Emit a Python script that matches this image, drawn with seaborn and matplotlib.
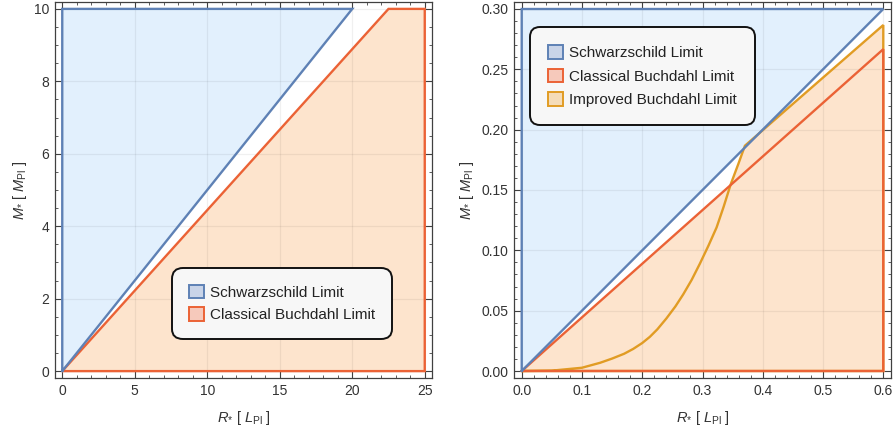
import numpy as np
import matplotlib
matplotlib.use("Agg")
import matplotlib.pyplot as plt
from matplotlib.patches import Patch
from matplotlib.ticker import MultipleLocator, FormatStrFormatter
import seaborn as sns

# ---------------- data ----------------
# Left panel (R in L_Pl, M in M_Pl)
left_schw_R = [0, 20, 0, 0]
left_schw_M = [0, 10, 10, 0]
left_buch_R = [0, 22.5, 25, 25, 0]
left_buch_M = [0, 10, 10, 0, 0]

# Right panel
right_schw_R = [0, 0.6, 0, 0]
right_schw_M = [0, 0.3, 0.3, 0]
right_buch_R = [0, 0.6, 0.6, 0]
right_buch_M = [0, 0.2667, 0, 0]
impr_R = [0, 0.05, 0.1, 0.13, 0.15, 0.17, 0.185, 0.2, 0.2126, 0.225, 0.24,
          0.255, 0.268, 0.282, 0.2957, 0.31, 0.3234, 0.335, 0.347, 0.3594,
          0.3704, 0.6, 0.6, 0]
impr_M = [0, 0.0003, 0.0027, 0.0068, 0.0103, 0.0143, 0.0183, 0.0232, 0.0283,
          0.0345, 0.0435, 0.0535, 0.0635, 0.0755, 0.089, 0.104, 0.119, 0.136,
          0.155, 0.1715, 0.1867, 0.2867, 0, 0]

labels = ["Schwarzschild Limit", "Classical Buchdahl Limit", "Improved Buchdahl Limit"]

# ---------------- style ----------------
sns.set_theme(style="white")
plt.rcParams["font.family"] = ["Liberation Sans", "DejaVu Sans"]
plt.rcParams["mathtext.fontset"] = "custom"
plt.rcParams["mathtext.rm"] = "Liberation Sans"
plt.rcParams["mathtext.it"] = "Liberation Sans:italic"

C_BLUE = "#5e81b5"
C_RED = "#eb6235"
C_GOLD = "#e19c24"
F_BLUE = "#e2f0fd"
F_ORANGE = "#fde4cd"
FRAME = "#404040"
TXT = "#333333"

fig = plt.figure(figsize=(8.94, 4.33), dpi=100)
axL = fig.add_axes([55 / 894, 55 / 433, 377 / 894, 376 / 433])
axR = fig.add_axes([514 / 894, 55 / 433, 377 / 894, 376 / 433])


def style_axes(ax, xmaj, xmin, ymaj, ymin, xfmt, yfmt):
    ax.set_facecolor("white")
    ax.xaxis.set_major_locator(MultipleLocator(xmaj))
    ax.xaxis.set_minor_locator(MultipleLocator(xmin))
    ax.yaxis.set_major_locator(MultipleLocator(ymaj))
    ax.yaxis.set_minor_locator(MultipleLocator(ymin))
    ax.xaxis.set_major_formatter(FormatStrFormatter(xfmt))
    ax.yaxis.set_major_formatter(FormatStrFormatter(yfmt))
    ax.tick_params(which="both", direction="in", top=True, right=True,
                   bottom=True, left=True, color=FRAME, labelcolor=TXT,
                   labelsize=10)
    ax.tick_params(which="major", length=5, width=0.8, pad=4)
    ax.tick_params(which="minor", length=2.5, width=0.6)
    for s in ax.spines.values():
        s.set_color(FRAME)
        s.set_linewidth(0.9)
    ax.set_axisbelow(False)
    ax.grid(True, which="major", color="#000000", alpha=0.06, linewidth=0.9)


def draw_poly(ax, R, M, fill, z):
    ax.fill(R, M, color=fill, zorder=z, linewidth=0)


def draw_edge(ax, R, M, edge, z):
    sns.lineplot(x=R, y=M, sort=False, estimator=None, ax=ax, color=edge,
                 linewidth=1.7, zorder=z, legend=False,
                 solid_joinstyle="miter")


# ---- left ----
draw_poly(axL, left_schw_R, left_schw_M, F_BLUE, 1)
draw_poly(axL, left_buch_R, left_buch_M, F_ORANGE, 1)
draw_edge(axL, left_buch_R, left_buch_M, C_RED, 3)
draw_edge(axL, left_schw_R, left_schw_M, C_BLUE, 3)
style_axes(axL, 5, 1, 2, 0.5, "%g", "%g")
axL.set_xlim(-0.5, 25.5)
axL.set_ylim(-0.19, 10.19)

# ---- right ----
draw_poly(axR, right_schw_R, right_schw_M, F_BLUE, 1)
draw_poly(axR, impr_R, impr_M, F_ORANGE, 1)
draw_poly(axR, right_buch_R, right_buch_M, F_ORANGE, 1)
draw_edge(axR, impr_R, impr_M, C_GOLD, 3)
draw_edge(axR, right_buch_R, right_buch_M, C_RED, 3.1)
draw_edge(axR, right_schw_R, right_schw_M, C_BLUE, 3.2)
style_axes(axR, 0.1, 0.02, 0.05, 0.01, "%.1f", "%.2f")
axR.set_xlim(-0.0128, 0.6128)
axR.set_ylim(-0.0058, 0.3058)

for ax in (axL, axR):
    ax.set_xlabel(r"$R_{*}$ [ $L_{\mathrm{Pl}}$ ]", fontsize=10.5, color=TXT, labelpad=8)
    ax.set_ylabel(r"$M_{*}$ [ $M_{\mathrm{Pl}}$ ]", fontsize=10.5, color=TXT, labelpad=4)


def make_handles(n):
    specs = [("#c9d4e8", C_BLUE), ("#f6c9bb", C_RED), ("#f5dcb8", C_GOLD)][:n]
    return [Patch(facecolor=f, edgecolor=e, linewidth=1.4) for f, e in specs]


def add_legend(ax, n, center, spacing, pad):
    leg = ax.legend(handles=make_handles(n), labels=labels[:n], loc="center",
                    bbox_to_anchor=center, fontsize=11, frameon=True,
                    fancybox=True, framealpha=1, facecolor="#f7f7f7",
                    edgecolor="#111111", handlelength=1.0, handleheight=1.0,
                    handletextpad=0.4, labelspacing=spacing, borderpad=pad,
                    borderaxespad=0)
    leg.get_frame().set_linewidth(1.4)
    leg.get_frame().set_boxstyle("round", pad=0.0, rounding_size=0.7)
    for t in leg.get_texts():
        t.set_color("#222222")
    leg.set_zorder(10)
    return leg


add_legend(axL, 2, (0.602, 0.198), 0.5, 1.1)
add_legend(axR, 3, (0.341, 0.803), 0.55, 1.2)

fig.savefig("out.png", dpi=100)
